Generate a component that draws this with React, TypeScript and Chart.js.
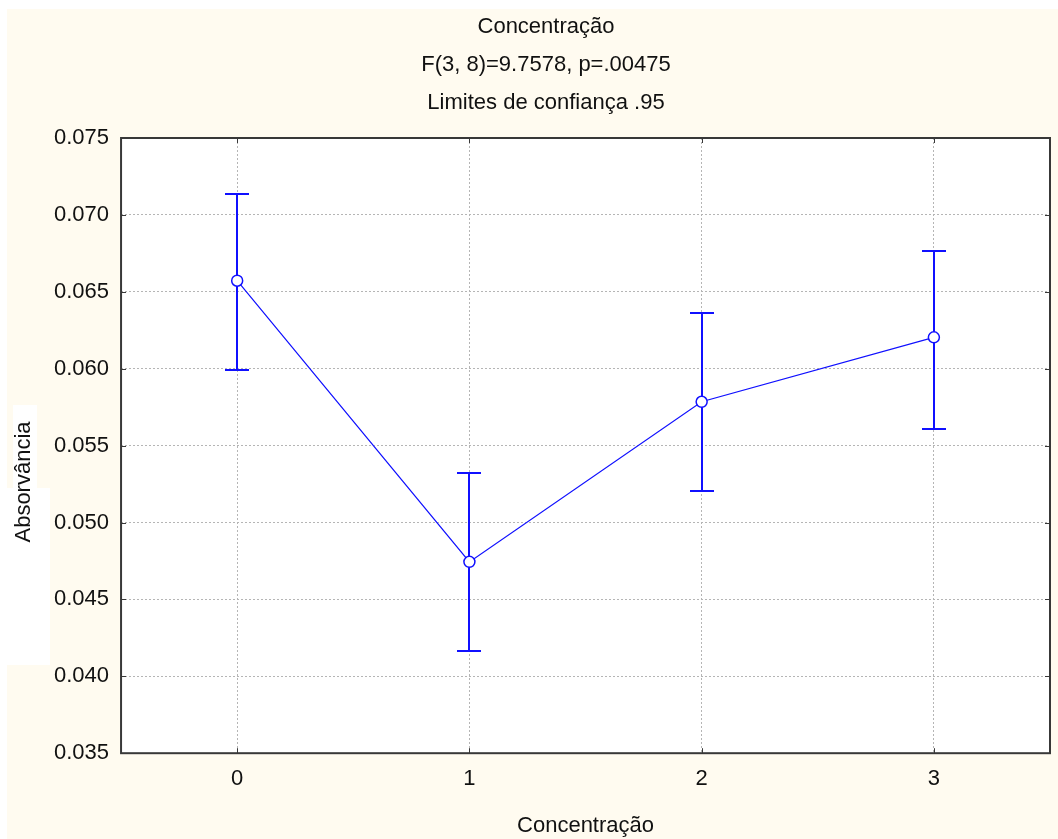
import React, { useEffect, useRef } from 'react';
import { Chart, registerables } from 'chart.js';

Chart.register(...registerables);

// ---- data ----
const categories = ['0', '1', '2', '3'];
const means = [0.06572, 0.04744, 0.05785, 0.06204];
const upper = [0.07136, 0.05319, 0.0636, 0.06763];
const lower = [0.05991, 0.04165, 0.05204, 0.05605];
const titleLines = ['Concentração', 'F(3, 8)=9.7578, p=.00475', 'Limites de confiança .95'];
const xTitle = 'Concentração';
const yTitle = 'Absorvância';
const yMin = 0.035;
const yMax = 0.075;
const yStep = 0.005;

// ---- styles ----
const FONT = '"Liberation Sans", Arial, sans-serif';
const BLUE = '#1010ff';
const CREAM = '#fffbf0';
const TEXT = '#111111';
const GRID = '#b5b5b5';
const FRAME = '#383838';

const decor = {
  id: 'decor',
  beforeDraw(chart: any) {
    const { ctx, width, height, chartArea } = chart;
    ctx.save();
    ctx.fillStyle = '#ffffff';
    ctx.fillRect(0, 0, width, height);
    ctx.fillStyle = CREAM;
    ctx.fillRect(7, 9, width - 7, height - 9);
    ctx.fillStyle = '#ffffff';
    ctx.fillRect(13, 405, 24, 83);
    ctx.fillRect(7, 488, 43, 177);
    ctx.fillRect(chartArea.left, chartArea.top, chartArea.width, chartArea.height);
    ctx.restore();
  },
  beforeDatasetsDraw(chart: any) {
    const { ctx, chartArea } = chart;
    const xs = chart.scales.x;
    const ys = chart.scales.y;
    ctx.save();
    // frame
    ctx.strokeStyle = FRAME;
    ctx.lineWidth = 2;
    ctx.strokeRect(chartArea.left, chartArea.top, chartArea.width, chartArea.height);
    // inner ticks
    ctx.lineWidth = 1;
    const tl = 5;
    xs.ticks.forEach((_t: any, i: number) => {
      const x = Math.round(xs.getPixelForTick(i)) + 0.5;
      ctx.beginPath();
      ctx.moveTo(x, chartArea.bottom);
      ctx.lineTo(x, chartArea.bottom - tl);
      ctx.moveTo(x, chartArea.top);
      ctx.lineTo(x, chartArea.top + tl);
      ctx.stroke();
    });
    ys.ticks.forEach((_t: any, i: number) => {
      const y = Math.round(ys.getPixelForTick(i)) + 0.5;
      ctx.beginPath();
      ctx.moveTo(chartArea.left, y);
      ctx.lineTo(chartArea.left + tl, y);
      ctx.moveTo(chartArea.right, y);
      ctx.lineTo(chartArea.right - tl, y);
      ctx.stroke();
    });
    // error bars
    ctx.strokeStyle = BLUE;
    ctx.lineWidth = 2;
    const cap = 12;
    for (let i = 0; i < means.length; i++) {
      const x = Math.round(xs.getPixelForValue(i));
      const yt = Math.round(ys.getPixelForValue(upper[i]));
      const yb = Math.round(ys.getPixelForValue(lower[i]));
      ctx.beginPath();
      ctx.moveTo(x, yt);
      ctx.lineTo(x, yb);
      ctx.moveTo(x - cap, yt);
      ctx.lineTo(x + cap, yt);
      ctx.moveTo(x - cap, yb);
      ctx.lineTo(x + cap, yb);
      ctx.stroke();
    }
    ctx.restore();
  },
  afterDraw(chart: any) {
    const { ctx } = chart;
    ctx.save();
    ctx.translate(24, 482);
    ctx.rotate(-Math.PI / 2);
    ctx.fillStyle = TEXT;
    ctx.font = `22px ${FONT}`;
    ctx.textAlign = 'center';
    ctx.textBaseline = 'middle';
    ctx.fillText(yTitle, 0, 0);
    ctx.restore();
  },
};

export default function App() {
  const ref = useRef<HTMLCanvasElement | null>(null);

  useEffect(() => {
    if (!ref.current) return;
    const chart = new Chart(ref.current, {
      type: 'line',
      data: {
        labels: categories,
        datasets: [
          {
            data: means,
            borderColor: BLUE,
            borderWidth: 1.2,
            pointRadius: 5.5,
            pointBackgroundColor: '#ffffff',
            pointBorderColor: BLUE,
            pointBorderWidth: 1.5,
            tension: 0,
            fill: false,
          },
        ],
      },
      options: {
        animation: false,
        responsive: false,
        layout: { padding: { left: 42, right: 8, top: 0, bottom: 0 } },
        plugins: {
          legend: { display: false },
          tooltip: { enabled: false },
          title: {
            display: true,
            text: titleLines,
            color: TEXT,
            font: { family: FONT, size: 22, weight: 'normal', lineHeight: '38px' },
            padding: { top: 8, bottom: 16 },
          },
        },
        scales: {
          x: {
            type: 'category',
            offset: true,
            grid: { offset: false, color: GRID, lineWidth: 1, drawTicks: false },
            border: { display: false, dash: [2, 2] },
            ticks: { color: TEXT, font: { family: FONT, size: 22 }, padding: 13 },
            title: {
              display: true,
              text: xTitle,
              color: TEXT,
              font: { family: FONT, size: 22 },
              padding: { top: 7, bottom: 0 },
            },
          },
          y: {
            type: 'linear',
            min: yMin,
            max: yMax,
            grid: { color: GRID, lineWidth: 1, drawTicks: false },
            border: { display: false, dash: [2, 2] },
            ticks: {
              stepSize: yStep,
              color: TEXT,
              font: { family: FONT, size: 22 },
              padding: 12,
              callback: (v: any) => Number(v).toFixed(3),
            },
          },
        },
      },
      plugins: [decor],
    });
    return () => chart.destroy();
  }, []);

  return (
    <div style={{ position: 'absolute', left: 0, top: 0, width: 1058, height: 839 }}>
      <canvas ref={ref} width={1058} height={839} style={{ display: 'block', width: 1058, height: 839 }} />
    </div>
  );
}
